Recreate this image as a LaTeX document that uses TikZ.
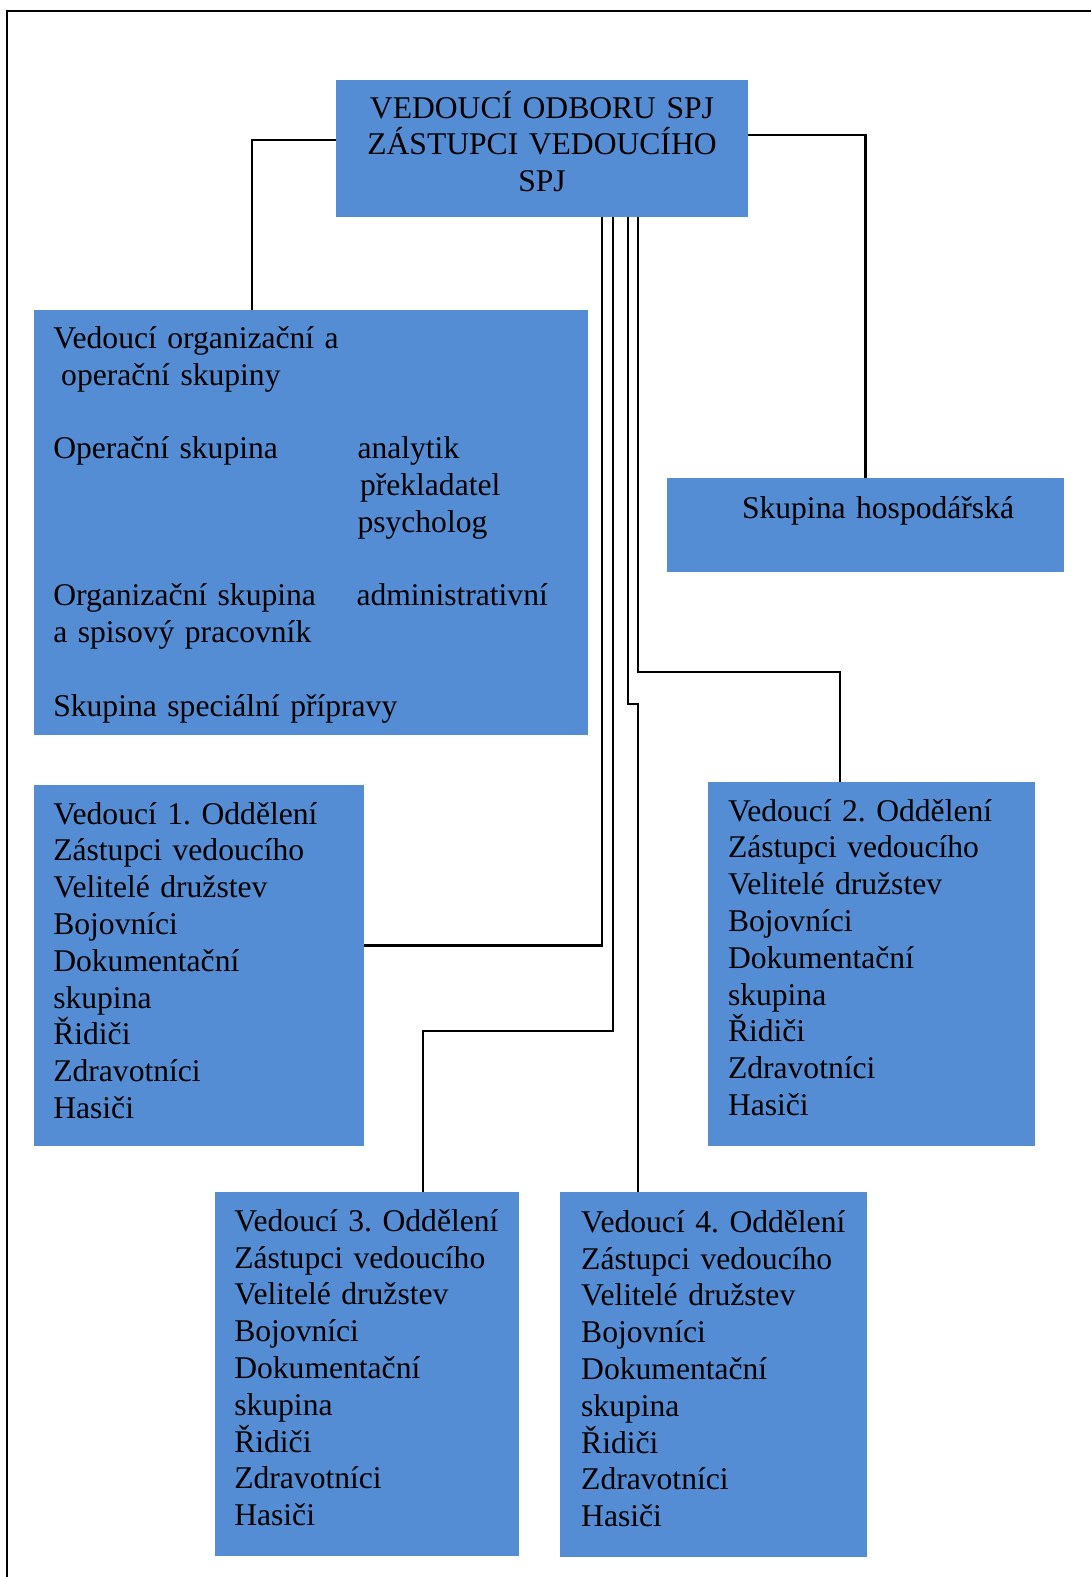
\documentclass[tikz,border=0pt]{standalone}
\usepackage{fontspec}
\setmainfont{Liberation Serif}
\frenchspacing
\definecolor{boxblue}{RGB}{84,141,212}
\newcommand\bigtxt{\fontsize{31.6}{36.8}\selectfont\frenchspacing}
\tikzset{
  box/.style={rectangle, fill=boxblue, draw=none, inner sep=0pt, outer sep=0pt},
  txt/.style={anchor=base west, inner sep=0pt, outer sep=0pt, align=left, text width=420pt, font=\bigtxt, text=black},
  ctxt/.style={anchor=base, inner sep=0pt, outer sep=0pt, align=center, text width=412pt, font=\bigtxt, text=black},
  conn/.style={draw=black, line width=2.2pt},
  frame/.style={draw=black, line width=2pt}
}
\begin{document}
\begin{tikzpicture}[x=1pt,y=-1pt]
\useasboundingbox (0,0) rectangle (1091,1577);
\draw[frame] (1091,11) -- (7,11) -- (7,1577);

% boxes
\node[box, minimum width=412pt, minimum height=137pt] (top) at (542,148.5) {};
\node[box, minimum width=554pt, minimum height=424.5pt] (org) at (311,522.25) {};
\node[box, minimum width=397pt, minimum height=93.7pt] (hosp) at (865.5,524.85) {};
\node[box, minimum width=330pt, minimum height=360.7pt] (box1) at (199,965.35) {};
\node[box, minimum width=327pt, minimum height=363.7pt] (box2) at (871.5,963.85) {};
\node[box, minimum width=304pt, minimum height=364pt] (box3) at (367,1373.7) {};
\node[box, minimum width=307pt, minimum height=365pt] (box4) at (713.5,1374.5) {};

% texts
\node[ctxt] (ttop) at (542,118.1) {VEDOUCÍ ODBORU SPJ\\ZÁSTUPCI VEDOUCÍHO\\SPJ};

\node[txt] (org1) at (53.3,348.3) {Vedoucí organizační a\\\hspace*{7.9pt}operační skupiny};
\node[txt] (org2) at (53.3,458.7) {Operační skupina};
\node[txt] (org3) at (357.5,458.7) {analytik\\\hspace*{2.5pt}překladatel\\psycholog};
\node[txt] (org4) at (53.3,605.5) {Organizační skupina\\a spisový pracovník};
\node[txt] (org5) at (356.5,605.5) {administrativní};
\node[txt] (org6) at (53.3,716.3) {Skupina speciální přípravy};

\node[txt] (thosp) at (742,518.3) {Skupina hospodářská};

\node[txt] (t1) at (53.3,824) {Vedoucí 1. Oddělení\\Zástupci vedoucího\\Velitelé družstev\\Bojovníci\\Dokumentační\\skupina\\Řidiči\\Zdravotníci\\Hasiči};
\node[txt] (t2) at (728,821) {Vedoucí 2. Oddělení\\Zástupci vedoucího\\Velitelé družstev\\Bojovníci\\Dokumentační\\skupina\\Řidiči\\Zdravotníci\\Hasiči};
\node[txt] (t3) at (234.3,1231.2) {Vedoucí 3. Oddělení\\Zástupci vedoucího\\Velitelé družstev\\Bojovníci\\Dokumentační\\skupina\\Řidiči\\Zdravotníci\\Hasiči};
\node[txt] (t4) at (581.2,1232.2) {Vedoucí 4. Oddělení\\Zástupci vedoucího\\Velitelé družstev\\Bojovníci\\Dokumentační\\skupina\\Řidiči\\Zdravotníci\\Hasiči};

% connectors
\draw[conn] ([yshift=8.5pt]top.west) -| ([xshift=-59pt]org.north);
\draw[conn] ([yshift=13.5pt]top.east) -| (hosp.north);
\draw[conn] ([xshift=60pt]top.south) |- ([yshift=19.85pt]box1.east);
\draw[conn] ([xshift=71.3pt]top.south) -- ++(0,814) -| ([xshift=56pt]box3.north);
\draw[conn] ([xshift=86pt]top.south) -- ++(0,486.6) -| ([xshift=-75.5pt]box4.north);
\draw[conn] ([xshift=95.7pt]top.south) -- ++(0,455) -| ([xshift=-31.5pt]box2.north);
\end{tikzpicture}
\end{document}
